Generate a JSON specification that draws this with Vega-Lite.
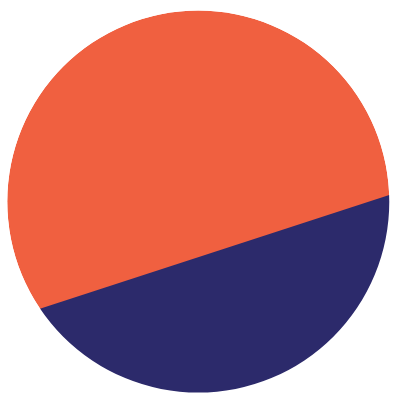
{
  "$schema": "https://vega.github.io/schema/vega-lite/v6.json",
  "width": 400,
  "height": 400,
  "padding": 0,
  "autosize": {"type": "fit", "contains": "padding"},
  "background": "white",
  "config": {"view": {"stroke": null}},
  "datasets": {
    "circle": [{"part": "whole", "cx": 0, "cy": 0}],
    "level": [
      {"part": "B", "x": -1.2, "y": -0.6826, "y2": -1.2},
      {"part": "B", "x": 1.2, "y": 0.0998, "y2": -1.2}
    ]
  },
  "layer": [
    {
      "data": {"name": "circle"},
      "mark": {"type": "arc", "theta": 0, "theta2": 6.2832, "radius": 191, "fill": "#F06040"},
      "encoding": {
        "x": {"field": "cx", "type": "quantitative", "scale": {"domain": [-1.038, 1.056], "nice": false, "zero": false}, "axis": null},
        "y": {"field": "cy", "type": "quantitative", "scale": {"domain": [-1.039, 1.056], "nice": false, "zero": false}, "axis": null}
      }
    },
    {
      "data": {"name": "level"},
      "mark": {"type": "area", "fill": "#2C2A6B", "clip": true},
      "encoding": {
        "x": {"field": "x", "type": "quantitative"},
        "y": {"field": "y", "type": "quantitative"},
        "y2": {"field": "y2"}
      }
    },
    {
      "data": {"name": "circle"},
      "mark": {"type": "arc", "theta": 0, "theta2": 6.2832, "radius2": 191, "radius": 330, "fill": "white", "clip": true},
      "encoding": {
        "x": {"field": "cx", "type": "quantitative"},
        "y": {"field": "cy", "type": "quantitative"}
      }
    }
  ]
}
